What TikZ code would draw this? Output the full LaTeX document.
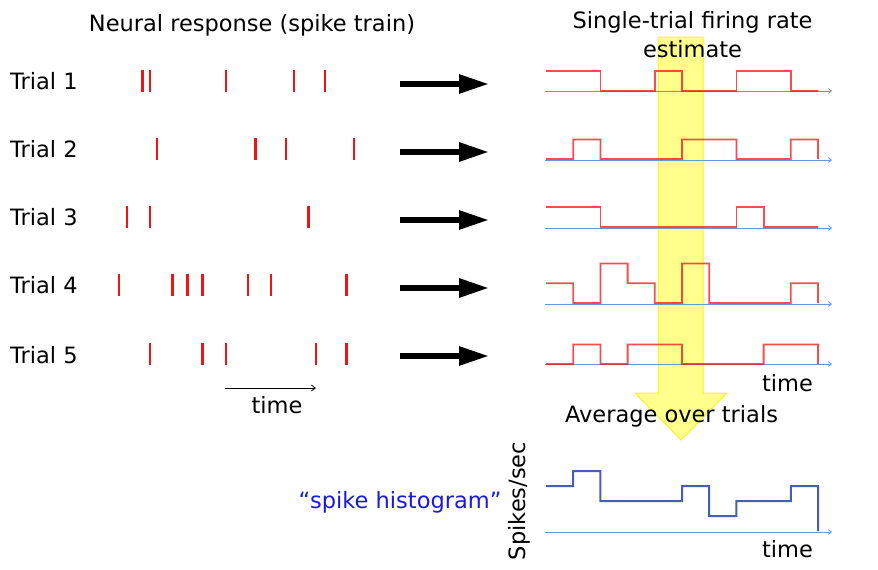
\documentclass[tikz,border=0pt]{standalone}
\usepackage{fontspec}
\setmainfont{DejaVu Sans}
\usetikzlibrary{arrows.meta}
\definecolor{spikered}{RGB}{240,20,20}
\definecolor{axisblue}{RGB}{110,150,210}
\definecolor{histblue}{RGB}{70,95,180}
\definecolor{labelblue}{RGB}{25,25,230}
\definecolor{bandfill}{RGB}{255,255,140}
\definecolor{bandedge}{RGB}{250,240,40}
\tikzset{
  lbl/.style={font=\fontsize{22.5}{27}\selectfont, inner sep=0pt, anchor=base},
  spk/.style={draw=spikered, line width=2.5pt},
  bigarrow/.style={line width=5.8pt, -{Triangle[length=30pt,width=18pt]}},
  rateaxis/.style={draw=axisblue, line width=0.9pt, -{Straight Barb[length=3pt,width=5pt]}},
  ratecurve/.style={draw=spikered, draw opacity=0.75, line width=1.8pt},
  histcurve/.style={draw=histblue, line width=2pt},
}
\newcommand\steptrace[5]{%
  \draw[#1] (546,{#2-#3*#4}) \foreach \v [count=\i from 0] in {#5} {
    -- ({546+27.2*\i},{#2-#3*\v}) -- ({546+27.2*(\i+1)},{#2-#3*\v}) } -- (818,#2);
}
\newcommand\spikes[2]{%
  \foreach \sx in {#2} { \draw[spk] (\sx,{#1-11}) -- (\sx,{#1+11}); }
}
\begin{document}
\begin{tikzpicture}[x=1pt,y=-1pt]
\useasboundingbox (0,0) rectangle (878,570);
% yellow band arrow
\fill[bandfill, draw=bandedge, line width=1pt]
  (658,37) -- (703,37) -- (703,393) -- (727,393) -- (681,440) -- (635,393) -- (658,393) -- cycle;
% titles
\node[lbl] (t1) at (252,31) {Neural response (spike train)};
\node[lbl] (t2) at (692.5,28) {Single-trial firing rate};
\node[lbl] (t3) at (692.5,57) {estimate};
% trial labels
\foreach \k/\b in {1/89,2/157,3/225,4/293,5/363} {
  \node[lbl, anchor=base west] (tr\k) at (10,\b) {Trial \k};
}
% spike trains
\spikes{81}{142.5,150,226,294,325}
\spikes{149}{157,255.5,286,354}
\spikes{217}{127,150,308.5}
\spikes{284.5}{119,172.5,187.5,202.5,248,271,346.5}
\spikes{354}{150,202.5,226,316,346.5}
% time arrow left
\coordinate (ts) at (225,388);
\coordinate (te) at (316,388);
\draw[line width=0.8pt, -{Straight Barb[length=4pt,width=6pt]}] (ts) -- (te);
\node[lbl] (time1) at (277,413) {time};
% big arrows
\foreach \k/\y in {1/84,2/152,3/220,4/288,5/356} {
  \coordinate (as\k) at (400,\y);
  \coordinate (ae\k) at (489,\y);
  \draw[bigarrow] (as\k) -- (ae\k);
}
% rate axes
\foreach \y in {91,160,228,304,364} {
  \draw[rateaxis] (545,\y) -- (832,\y);
}
% rate traces
\steptrace{ratecurve}{91}{20}{1}{1,1,0,0,1,0,0,1,1,0}
\steptrace{ratecurve}{159}{19.5}{0}{0,1,0,0,0,1,1,0,0,1}
\steptrace{ratecurve}{227}{20}{1}{1,1,0,0,0,0,0,1,0,0}
\steptrace{ratecurve}{303}{19.8}{1}{1,0,2,1,0,2,0,0,0,1}
\steptrace{ratecurve}{364}{19.5}{0}{0,1,0,1,1,0,0,0,1,1}
\node[lbl] (time2) at (787.5,391) {time};
\node[lbl] (avg) at (671.5,422) {Average over trials};
% histogram
\draw[rateaxis] (545,532) -- (832,532);
\steptrace{histcurve}{531}{15}{3}{3,4,2,2,2,3,1,2,2,3}
\node[lbl] (time3) at (787.5,557) {time};
\node[lbl, anchor=center, rotate=90] (ylab) at (519,501) {Spikes/sec};
\node[lbl, text=labelblue] (hist) at (400,508) {“spike histogram”};
\end{tikzpicture}
\end{document}
